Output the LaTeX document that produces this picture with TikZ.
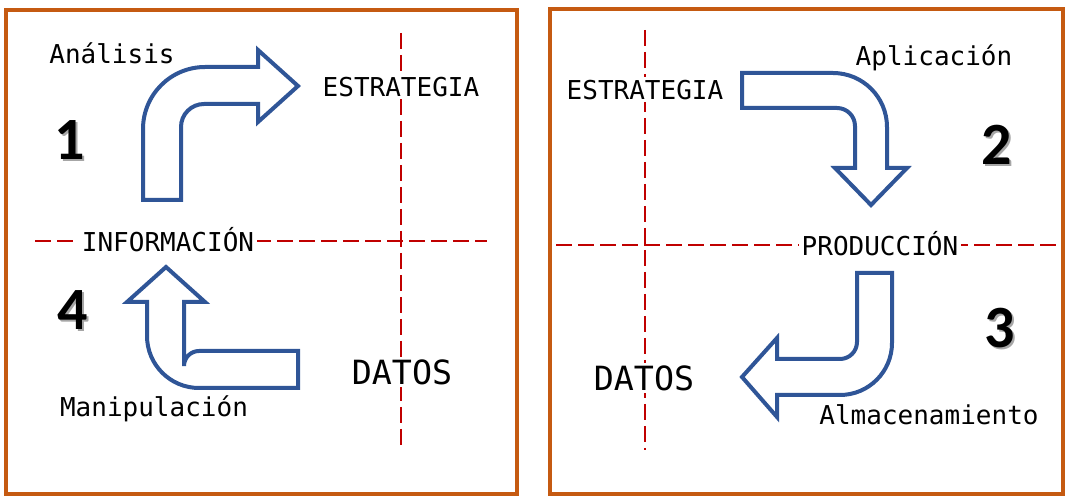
\documentclass[tikz,border=0pt]{standalone}
\usepackage{fontspec}
\usepackage{tikz}
\usetikzlibrary{positioning}
\newfontfamily\monofont{DejaVu Sans Mono}
\newfontfamily\digitfont{Carlito}
\definecolor{frameorange}{HTML}{C55A11}
\definecolor{arrowblue}{HTML}{2F5597}
\definecolor{axisred}{HTML}{C00000}

\begin{document}
\begin{tikzpicture}[
    x=0.75pt, y=-0.75pt,
    panel/.style={draw=frameorange, line width=3pt},
    axis/.style={draw=axisred, line width=1.4pt, dash pattern=on 12pt off 4.5pt},
    bent/.style={draw=arrowblue, fill=white, line width=3pt, line join=miter},
    lbl/.style={font=\monofont\fontsize{19.5}{22}\selectfont, fill=white, inner sep=2pt},
    big/.style={font=\monofont\fontsize{25}{28}\selectfont, fill=white, inner sep=2pt},
    num/.style={font=\digitfont\bfseries\fontsize{45}{50}\selectfont, inner sep=0pt},
]
\useasboundingbox (0,0) rectangle (1072,502);

% Panels
\draw[panel] (6,10) rectangle (517,494);
\draw[panel] (550,9) rectangle (1063,494);

% Axes
\draw[axis] (401,33) -- (401,447);
\draw[axis] (35,241) -- (487,241);
\draw[axis] (645,30) -- (645,450);
\draw[axis] (556,245) -- (1058,245);

% Bent arrows
\draw[bent] (143,200) -- (143,129) arc (180:270:62) -- (258,67) -- (258,50) -- (298,86) -- (258,122) -- (258,104) -- (204,104) arc (270:180:23) -- (181,200) -- cycle;
\draw[bent] (298,351) -- (199,351) arc (270:180:15) -- (184,302) -- (205,302) -- (166,267) -- (127,302) -- (147,302) -- (147,336) arc (180:90:52) -- (298,388) -- cycle;
\draw[bent] (742,73) -- (833,73) arc (270:360:54) -- (887,168) -- (907,168) -- (871,205) -- (835,168) -- (855,168) -- (855,126) arc (0:-90:18) -- (742,108) -- cycle;
\draw[bent] (857,273) -- (892,273) -- (892,343) arc (0:90:52) -- (777,395) -- (777,417) -- (742,377) -- (777,338) -- (777,359) -- (840,359) arc (90:0:17) -- cycle;

% Left panel labels
\node[lbl] (analisis) at (112,53) {Análisis};
\node[lbl] (estrat1) at (401,87) {ESTRATEGIA};
\node[lbl] (info) at (168,240) {INFORMACIÓN};
\node[big] (datos1) at (402,372) {DATOS};
\node[lbl] (manip) at (154,409) {Manipulación};

% Right panel labels
\node[lbl] (estrat2) at (645,90) {ESTRATEGIA};
\node[lbl] (aplic) at (934,58) {Aplicación};
\node[lbl] (prod) at (880,244) {PRODUCCIÓN};
\node[big] (datos2) at (644,378) {DATOS};
\node[lbl] (almac) at (929,415) {Almacenamiento};

% Step numbers
\foreach \n/\x/\y in {1/70/140, 2/997/145, 3/1000/328, 4/73/310} {
    \node[num, text=black!35] (shadow\n) at (\x+2,\y+2) {\n};
    \node[num] (num\n) at (\x,\y) {\n};
}

\end{tikzpicture}
\end{document}
